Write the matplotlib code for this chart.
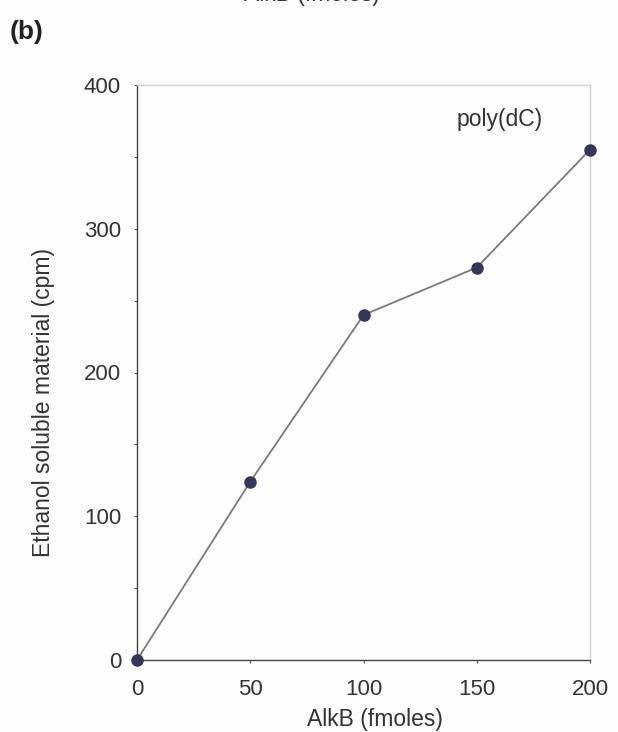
import matplotlib
matplotlib.use("Agg")
import matplotlib.pyplot as plt
from matplotlib.ticker import MultipleLocator

plt.rcParams['font.family'] = ['Liberation Sans', 'DejaVu Sans']

alkb = [0, 50, 100, 150, 200]
cpm = [0, 124, 240, 273, 355]
xticks = [0, 50, 100, 150, 200]
yticks = [0, 100, 200, 300, 400]

W, H = 618, 732
fig = plt.figure(figsize=(W/100, H/100), dpi=100)
fig.patch.set_facecolor('#fdfdfd')
ax = fig.add_axes([137/W, 1-660/H, (590-137)/W, (660-85)/H])
ax.set_facecolor('#fdfdfd')

ax.plot(alkb, cpm, color='#7a7a7a', lw=1.3, marker='o', markersize=8,
        markerfacecolor='#37365a', markeredgecolor='#37365a', clip_on=False, zorder=3)

ax.set_xlim(0, 200)
ax.set_ylim(0, 400)
ax.set_xticks(xticks)
ax.set_yticks(yticks)
ax.yaxis.set_minor_locator(MultipleLocator(50))
ax.tick_params(axis='both', labelsize=16, labelcolor='#333333', color='#555555',
               length=2.5, width=0.8, direction='out')
ax.tick_params(axis='y', which='major', pad=9)
ax.tick_params(axis='y', which='minor', length=2.5, width=0.8, color='#555555')
ax.tick_params(axis='x', pad=11)
for s in ['top', 'right']:
    ax.spines[s].set_color('#d0d0d0')
    ax.spines[s].set_linewidth(1.0)
for s in ['left', 'bottom']:
    ax.spines[s].set_color('#444444')
    ax.spines[s].set_linewidth(1.0)

ax.set_xlabel('AlkB (fmoles)', fontsize=16.5, color='#333333')
ax.xaxis.set_label_coords(0.525, -0.083)
ax.set_ylabel('Ethanol soluble material (cpm)', fontsize=16.5, color='#333333')
ax.yaxis.set_label_coords(-0.18, 0.447)
ax.text(160, 376, 'poly(dC)', fontsize=16.5, color='#333333', ha='center', va='center')

fig.text(10/W, 1-39/H, '(b)', fontsize=19, fontweight='bold', color='#222222')
fig.text(312/W, 1-1/H, 'AlkB (fmoles)', fontsize=16.5, color='#333333', ha='center', va='baseline')

fig.savefig('out.png', dpi=100, facecolor=fig.get_facecolor())
